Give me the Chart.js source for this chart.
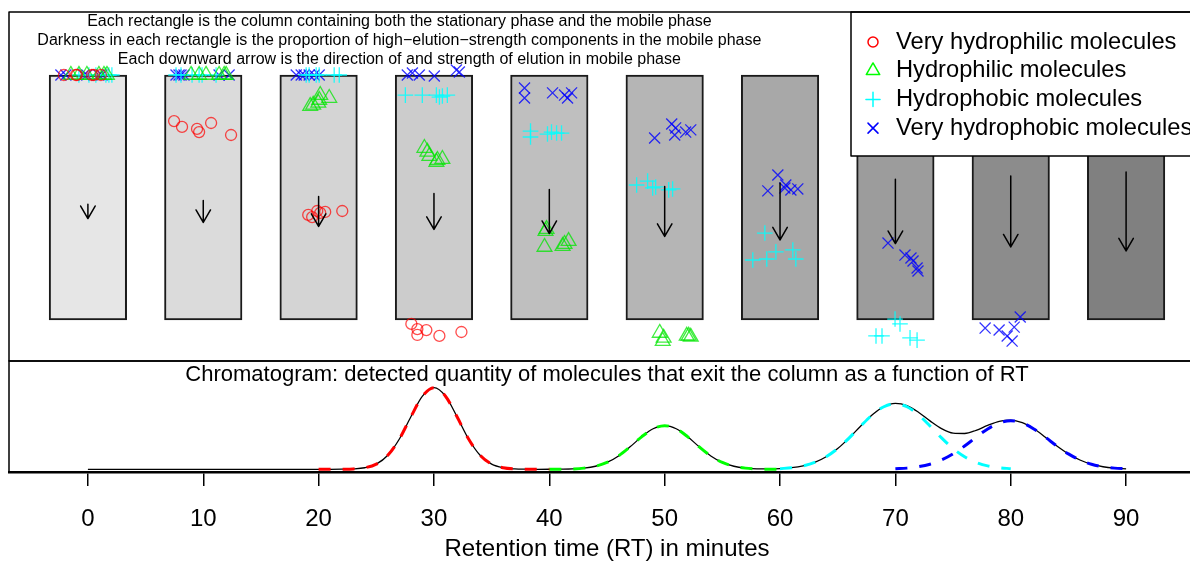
<!DOCTYPE html>
<html><head><meta charset="utf-8">
<script src="https://cdn.jsdelivr.net/npm/chart.js@4"></script>
<style>
html,body{margin:0;padding:0;background:#fff;overflow:hidden;width:1190px;height:562px;position:relative;}
#top{position:absolute;left:0;top:0;width:1215px;height:362px;}
#bot{position:absolute;left:0;top:355px;width:1215px;height:215px;}
</style></head><body>
<div id="top"><canvas id="c1"></canvas></div>
<div id="bot"><canvas id="c2"></canvas></div>
<script>
const FONT = "'Liberation Sans', Arial, Helvetica, sans-serif";

// ---------- data: columns ----------
const columnTimes = [0, 10, 20, 30, 40, 50, 60, 70, 80, 90];
const columnSpan = [0, 10];                       // bottom (exit) .. top (injection) of column
const highStrengthShare = [0.10, 0.14, 0.17, 0.20, 0.25, 0.29, 0.34, 0.39, 0.45, 0.50];
const arrowStart = [4.72, 4.88, 5.04, 5.16, 5.33, 5.45, 5.59, 5.74, 5.88, 6.04];
const arrowEnd   = [4.14, 3.98, 3.82, 3.70, 3.53, 3.41, 3.27, 3.12, 2.98, 2.82];

// ---------- data: molecules [RT, position in column] ----------
const veryHydrophilic = [
  [-2.08,10],[-1.04,10],[-0.95,10],[0.35,10],[0.52,10],[1.13,10],
  [7.47,8.12],[8.16,7.88],[9.46,7.80],[9.64,7.67],[10.68,8.04],[12.41,7.55],
  [19.10,4.29],[19.44,4.20],[19.88,4.45],[20.14,4.37],[20.57,4.41],[22.05,4.45],
  [28.04,-0.16],[28.56,-0.37],[29.34,-0.41],[28.56,-0.61],[30.47,-0.65],[32.38,-0.49]
];
const hydrophilic = [
  [-1.48,10],[-0.78,10],[-0.09,10],[0.95,10],[1.39,10],[1.65,10],
  [8.94,10],[9.64,10],[10.24,10],[11.37,10],[11.81,10],[11.98,10],
  [19.27,8.73],[19.53,8.78],[19.97,8.86],[20.14,9.18],[20.92,9.06],[20.05,8.98],
  [29.17,7.02],[29.60,6.69],[30.21,6.45],[30.73,6.57],[29.43,6.86],[30.30,6.53],
  [39.67,3.63],[39.58,2.98],[41.15,3.02],[41.67,3.22],[39.76,3.71],[41.32,3.10],
  [49.57,-0.53],[49.83,-0.86],[49.91,-0.73],[51.91,-0.65],[52.08,-0.65],[52.26,-0.69]
];
const hydrophobic = [
  [-0.78,10],[0.09,10],[0.69,10],[1.56,10],[1.82,10],[2.08,10],
  [7.64,10],[8.07,10],[9.03,10],[9.64,10],[9.90,10],[11.11,10],
  [18.92,10],[19.18,10],[19.79,10],[20.05,10],[21.35,10],[21.79,10],
  [27.52,9.18],[28.99,9.18],[30.21,9.18],[30.47,9.10],[30.73,9.14],[31.16,9.18],
  [38.37,7.71],[38.37,7.47],[39.84,7.59],[40.19,7.67],[40.63,7.63],[41.06,7.63],
  [47.57,5.51],[48.52,5.67],[48.96,5.39],[49.22,5.43],[50.35,5.31],[50.69,5.35],
  [58.68,3.55],[57.64,2.45],[58.85,2.49],[59.64,2.78],[61.11,2.86],[61.37,2.49],
  [68.32,-0.65],[68.84,-0.65],[69.97,0.04],[70.40,-0.16],[71.27,-0.73],[71.88,-0.82]
];
const veryHydrophobic = [
  [-2.34,10],[-1.91,10],[-0.35,10],[-0.09,10],[0.95,10],[1.22,10],
  [7.64,10],[7.90,10],[8.07,10],[8.33,10],[11.37,10],[12.24,10],
  [18.06,10],[18.49,10],[18.75,10],[19.18,10],[19.62,10],[20.05,10],
  [27.69,10],[28.13,10.08],[28.73,10],[30.03,9.96],[31.94,10.2],[32.20,10.12],
  [37.85,9.47],[37.85,9.06],[40.28,9.27],[41.32,9.18],[41.58,9.06],[41.93,9.27],
  [49.13,7.43],[50.61,8.0],[50.95,7.84],[50.87,7.55],[51.82,7.67],[52.26,7.76],
  [59.81,5.92],[58.94,5.27],[60.50,5.51],[60.94,5.31],[61.54,5.35],[60.42,5.39],
  [69.36,3.14],[70.83,2.65],[71.35,2.53],[71.53,2.41],[71.88,2.12],[71.96,2.0],
  [77.78,-0.33],[78.99,-0.41],[80.30,-0.29],[80.82,0.12],[79.69,-0.65],[80.12,-0.86]
];
const classNames = ['Very hydrophilic molecules','Hydrophilic molecules','Hydrophobic molecules','Very hydrophobic molecules'];

// ---------- data: chromatogram ----------
const rtGrid = [0,1,2,3,4,5,6,7,8,9,10,11,12,13,14,15,16,17,18,19,20,21,22,23,24,25,26,27,28,29,30,
  31,32,33,34,35,36,37,38,39,40,41,42,43,44,45,46,47,48,49,50,51,52,53,54,55,56,57,58,59,60,
  61,62,63,64,65,66,67,68,69,70,71,72,73,74,75,76,77,78,79,80,81,82,83,84,85,86,87,88,89,90];
const totalSignal = [0,0,0,0,0,0,0,0,0,0,0,0,0,0,0,0,0,0,0,0,0,0,
  0.0002,0.0009,0.0038,0.0127,0.0343,0.0742,0.1287,0.1791,0.2000,0.1791,0.1287,0.0742,0.0343,0.0127,0.0038,0.0009,0.0002,0.0000,
  0.0001,0.0003,0.0009,0.0029,0.0075,0.0168,0.0328,0.0550,0.0796,0.0994,0.1070,0.0994,0.0796,0.0550,0.0328,0.0168,0.0075,0.0030,0.0011,0.0009,
  0.0017,0.0039,0.0085,0.0169,0.0307,0.0509,0.0771,0.1063,0.1338,0.1538,0.1617,0.1562,0.1399,0.1187,0.0998,0.0887,0.0878,0.0956,0.1075,0.1176,
  0.1206,0.1143,0.0992,0.0788,0.0571,0.0378,0.0228,0.0125,0.0063,0.0029,0.0012];
const veryHydrophilicPeak = [0,0,0.0002,0.0009,0.0038,0.0127,0.0343,0.0742,0.1287,0.1791,0.2000,0.1791,0.1287,0.0742,0.0343,0.0127,0.0038,0.0009,0.0002,0,0]; // RT 20..40
const hydrophilicPeak = [0.0001,0.0003,0.0009,0.0029,0.0075,0.0168,0.0328,0.0550,0.0796,0.0994,0.1070,0.0994,0.0796,0.0550,0.0328,0.0168,0.0075,0.0029,0.0009,0.0003,0.0001]; // RT 40..60
const hydrophobicPeak = [0.0016,0.0039,0.0085,0.0169,0.0307,0.0509,0.0770,0.1062,0.1336,0.1533,0.1605,0.1533,0.1336,0.1062,0.0770,0.0509,0.0307,0.0169,0.0085,0.0039,0.0016]; // RT 60..80
const veryHydrophobicPeak = [0.0012,0.0029,0.0063,0.0125,0.0228,0.0378,0.0571,0.0787,0.0990,0.1137,0.1190,0.1137,0.0990,0.0787,0.0571,0.0378,0.0228,0.0125,0.0063,0.0029,0.0012]; // RT 70..90
const peakStart = [20, 40, 60, 70];
const tickValues = [0, 10, 20, 30, 40, 50, 60, 70, 80, 90];

const notes = [
  'Each rectangle is the column containing both the stationary phase and the mobile phase',
  'Darkness in each rectangle is the proportion of high\u2212elution\u2212strength components in the mobile phase',
  'Each downward arrow is the direction of and strength of elution in mobile phase'
];
const chromTitle = 'Chromatogram: detected quantity of molecules that exit the column as a function of RT';
const xTitle = 'Retention time (RT) in minutes';

// ---------- styles ----------
const solidCols = ['#FF0000', '#00FF00', '#00FFFF', '#0000FF'];
const fadedCols = ['rgba(255,0,0,0.7)', 'rgba(0,230,0,0.75)', 'rgba(0,255,255,0.85)', 'rgba(0,0,255,0.8)'];
const styles = ['circle', 'triangle', 'cross', 'crossRot'];
const radii = [5.5, 8.55, 7.8, 7.8];
const X_MIN = -6.84, X_MAX = 96.84;

function grey(share) { const g = Math.round(255 * (1 - share)); return `rgb(${g},${g},${g})`; }

function drawMark(ctx, style, x, y, R) {
  ctx.beginPath();
  if (style === 'circle') { ctx.arc(x, y, R, 0, Math.PI * 2); }
  else if (style === 'triangle') {
    ctx.moveTo(x, y - 1.555 * R); ctx.lineTo(x + 1.3468 * R, y + 0.7776 * R);
    ctx.lineTo(x - 1.3468 * R, y + 0.7776 * R); ctx.closePath();
  } else if (style === 'cross') {
    const h = 1.414 * R; ctx.moveTo(x - h, y); ctx.lineTo(x + h, y); ctx.moveTo(x, y - h); ctx.lineTo(x, y + h);
  } else {
    ctx.moveTo(x - R, y - R); ctx.lineTo(x + R, y + R); ctx.moveTo(x - R, y + R); ctx.lineTo(x + R, y - R);
  }
  ctx.stroke();
}

const topDecor = {
  id: 'topDecor',
  afterDatasetsDraw(chart) {
    const { ctx, chartArea: a, scales: { x, y } } = chart;
    ctx.save();
    // arrows
    ctx.strokeStyle = '#000'; ctx.lineWidth = 1.5; ctx.lineCap = 'round'; ctx.lineJoin = 'round';
    const L = 14.5, ang = Math.PI / 6;
    columnTimes.forEach((t, i) => {
      const px = x.getPixelForValue(t), y0 = y.getPixelForValue(arrowStart[i]), y1 = y.getPixelForValue(arrowEnd[i]);
      ctx.beginPath();
      ctx.moveTo(px, y0); ctx.lineTo(px, y1);
      ctx.moveTo(px - L * Math.sin(ang), y1 - L * Math.cos(ang)); ctx.lineTo(px, y1);
      ctx.lineTo(px + L * Math.sin(ang), y1 - L * Math.cos(ang));
      ctx.stroke();
    });
    // notes
    ctx.fillStyle = '#000'; ctx.font = `16px ${FONT}`; ctx.textAlign = 'center'; ctx.textBaseline = 'middle';
    const noteY = [12.18, 11.41, 10.63];
    notes.forEach((s, i) => ctx.fillText(s, x.getPixelForValue(27), y.getPixelForValue(noteY[i])));
    // legend
    const lw = 354, lh = 144, lx = a.right - lw, ly = a.top;
    ctx.fillStyle = '#fff'; ctx.fillRect(lx, ly, lw, lh);
    ctx.strokeStyle = '#000'; ctx.lineWidth = 1.5; ctx.strokeRect(lx, ly, lw, lh);
    ctx.font = `23.7px ${FONT}`; ctx.textAlign = 'left'; ctx.textBaseline = 'middle';
    classNames.forEach((n, i) => {
      const ry = ly + 30 + i * 28.7;
      ctx.strokeStyle = solidCols[i]; ctx.lineWidth = 1.5;
      drawMark(ctx, styles[i], lx + 22, ry, 5);
      ctx.fillStyle = '#000'; ctx.fillText(n, lx + 45, ry);
    });
    // frame
    ctx.strokeStyle = '#000'; ctx.lineWidth = 1.5;
    ctx.strokeRect(a.left, a.top, a.width, a.height);
    ctx.restore();
  }
};

const classes = [veryHydrophilic, hydrophilic, hydrophobic, veryHydrophobic];
const topDatasets = [{
  type: 'bar',
  data: columnTimes.map(t => ({ x: t, y: columnSpan })),
  backgroundColor: highStrengthShare.map(grey),
  borderColor: '#1a1a1a', borderWidth: 2, borderSkipped: false,
  barThickness: 77.5, order: 10
}].concat(classes.map((pts, i) => ({
  type: 'scatter',
  label: classNames[i],
  data: pts.map(p => ({ x: p[0], y: p[1] })),
  pointStyle: styles[i], pointRadius: radii[i],
  pointBorderColor: fadedCols[i], pointBackgroundColor: 'rgba(0,0,0,0)',
  pointBorderWidth: 1.3, showLine: false, order: i
})));

new Chart(document.getElementById('c1'), {
  type: 'bar',
  data: { datasets: topDatasets },
  options: {
    responsive: true, maintainAspectRatio: false, animation: false, events: [],
    layout: { autoPadding: false, padding: { left: 9, right: 10, top: 12, bottom: 1 } },
    plugins: { legend: { display: false }, tooltip: { enabled: false } },
    scales: {
      x: { type: 'linear', min: X_MIN, max: X_MAX, display: false, offset: false },
      y: { type: 'linear', min: -1.673, max: 12.571, display: false }
    }
  },
  plugins: [topDecor]
});

// ---------- chromatogram ----------
const botDecor = {
  id: 'botDecor',
  afterDraw(chart) {
    const { ctx, chartArea: a, scales: { x, y } } = chart;
    ctx.save();
    ctx.strokeStyle = '#000'; ctx.lineWidth = 1.5;
    ctx.strokeRect(a.left, a.top, a.width, a.height);
    ctx.fillStyle = '#000'; ctx.font = `22px ${FONT}`; ctx.textAlign = 'center'; ctx.textBaseline = 'middle';
    ctx.fillText(chromTitle, x.getPixelForValue(45), y.getPixelForValue(0.2320));
    ctx.restore();
  }
};

const peaks = [veryHydrophilicPeak, hydrophilicPeak, hydrophobicPeak, veryHydrophobicPeak];
const botDatasets = [{
  data: rtGrid.map((t, i) => ({ x: t, y: totalSignal[i] })),
  borderColor: '#000', borderWidth: 1.3, pointRadius: 0,
  cubicInterpolationMode: 'monotone', order: 10
}].concat(peaks.map((vals, k) => ({
  data: vals.map((v, i) => ({ x: rtGrid[peakStart[k] + i], y: v })),
  borderColor: solidCols[k], borderWidth: 3, borderDash: [12, 12], borderCapStyle: 'butt',
  pointRadius: 0, cubicInterpolationMode: 'monotone', order: k
})));

new Chart(document.getElementById('c2'), {
  type: 'line',
  data: { datasets: botDatasets },
  options: {
    responsive: true, maintainAspectRatio: false, animation: false, events: [],
    layout: { autoPadding: false, padding: { left: 9, right: 10, top: 6, bottom: 6.1 } },
    plugins: { legend: { display: false }, tooltip: { enabled: false } },
    scales: {
      x: {
        type: 'linear', min: X_MIN, max: X_MAX,
        afterBuildTicks: s => { s.ticks = tickValues.map(v => ({ value: v })); },
        grid: { display: true, drawOnChartArea: false, drawTicks: true, tickLength: 14, color: '#000', lineWidth: 1.5 },
        border: { display: true, color: '#000', width: 2.5 },
        ticks: { color: '#000', font: { size: 24, family: FONT }, padding: 19, maxRotation: 0, autoSkip: false },
        title: { display: true, text: xTitle, color: '#000', font: { size: 24, family: FONT }, padding: { top: -17.7, bottom: 0 } }
      },
      y: { type: 'linear', min: -0.0066, max: 0.2654, display: false }
    }
  },
  plugins: [botDecor]
});
</script>
</body></html>
